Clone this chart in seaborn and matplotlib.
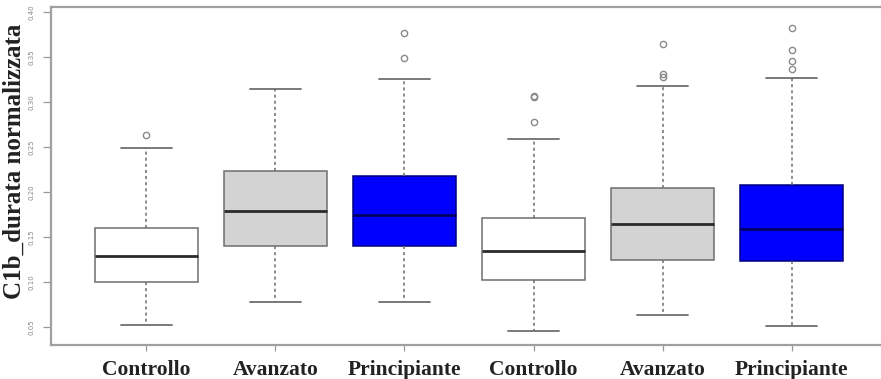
import pandas as pd
import seaborn as sns
import matplotlib.pyplot as plt

# Summary values (one entry per box, left to right)
labels = ['Controllo', 'Avanzato', 'Principiante', 'Controllo', 'Avanzato', 'Principiante']
w_lo = [0.0519, 0.0780, 0.0780, 0.0452, 0.0630, 0.0514]
q1 = [0.0997, 0.1404, 0.1404, 0.1026, 0.1244, 0.1233]
med = [0.1285, 0.1792, 0.1750, 0.1344, 0.1648, 0.1589]
q3 = [0.1600, 0.2233, 0.2180, 0.1707, 0.2050, 0.2078]
w_hi = [0.2490, 0.3140, 0.3252, 0.2589, 0.3178, 0.3270]
outliers = [[0.2630],
            [],
            [0.3486, 0.3763],
            [0.2778, 0.3055, 0.3068],
            [0.3275, 0.3310, 0.3648],
            [0.3363, 0.3452, 0.3578, 0.3826]]

box_colors = ['white', '#d3d3d3', '#0000ff', 'white', '#d3d3d3', '#0000ff']

# build point sets (n = 4m+1) whose quartiles / whiskers give the boxes above
m = 5
rows = []
for i in range(len(labels)):
    top = [w_hi[i]] + outliers[i]
    pts = ([w_lo[i]] + [q1[i]] * m + [med[i]] * m + [q3[i]] * m
           + [q3[i]] * (m - len(top)) + top)
    for v in pts:
        rows.append({'pos': str(i), 'val': v})
df = pd.DataFrame(rows)

sns.set_style('white')
fig = plt.figure(figsize=(8.81, 3.79), dpi=100)
ax = fig.add_axes([51 / 881, 34 / 379, 836 / 881, 338 / 379])

sns.boxplot(data=df, x='pos', y='val', hue='pos', palette=box_colors,
            saturation=1, legend=False, width=0.8, linecolor='#6e6e6e', linewidth=1.1,
            whiskerprops=dict(linestyle=(0, (2, 2)), color='#6e6e6e'),
            capprops=dict(color='#6e6e6e', linewidth=1.3),
            medianprops=dict(color='#2a2a2a', linewidth=2.0),
            flierprops=dict(marker='o', markersize=4.5, markerfacecolor='none',
                            markeredgecolor='#8a8a8a', markeredgewidth=1),
            ax=ax)

# darker blue edges / medians for the blue boxes, like the original
for i, patch in enumerate(ax.patches):
    if box_colors[i] == '#0000ff':
        patch.set_edgecolor('#00007a')
n_lines = len(ax.lines) // len(labels)
for i in range(len(labels)):
    if box_colors[i] == '#0000ff':
        ax.lines[i * n_lines + 4].set_color('#000060')

ax.set_xlim(-0.74, 5.74)
ax.set_ylim(0.030, 0.4056)
ax.set_xticks(range(len(labels)))
ax.set_xticklabels(labels, fontfamily='Liberation Serif', fontweight='bold',
                   fontsize=15.5, color='#222222')
ax.set_yticks([0.05, 0.10, 0.15, 0.20, 0.25, 0.30, 0.35, 0.40])
ax.set_yticklabels(['0.05', '0.10', '0.15', '0.20', '0.25', '0.30', '0.35', '0.40'],
                   rotation=90, fontsize=5, color='#888888', va='center')
ax.tick_params(axis='y', length=6, width=0.9, color='#999999', pad=6, left=True)
ax.tick_params(axis='x', length=4, width=0.9, color='#999999', pad=7, bottom=True)
ax.set_xlabel('')
ax.set_ylabel('C1b_durata normalizzata', fontfamily='Liberation Serif',
              fontweight='bold', fontsize=18, color='#222222')
ax.yaxis.set_label_coords(-0.030, 0.544)

for s in ax.spines.values():
    s.set_color('#a0a0a0')
    s.set_linewidth(1.6)

plt.savefig('out.png', dpi=100)
